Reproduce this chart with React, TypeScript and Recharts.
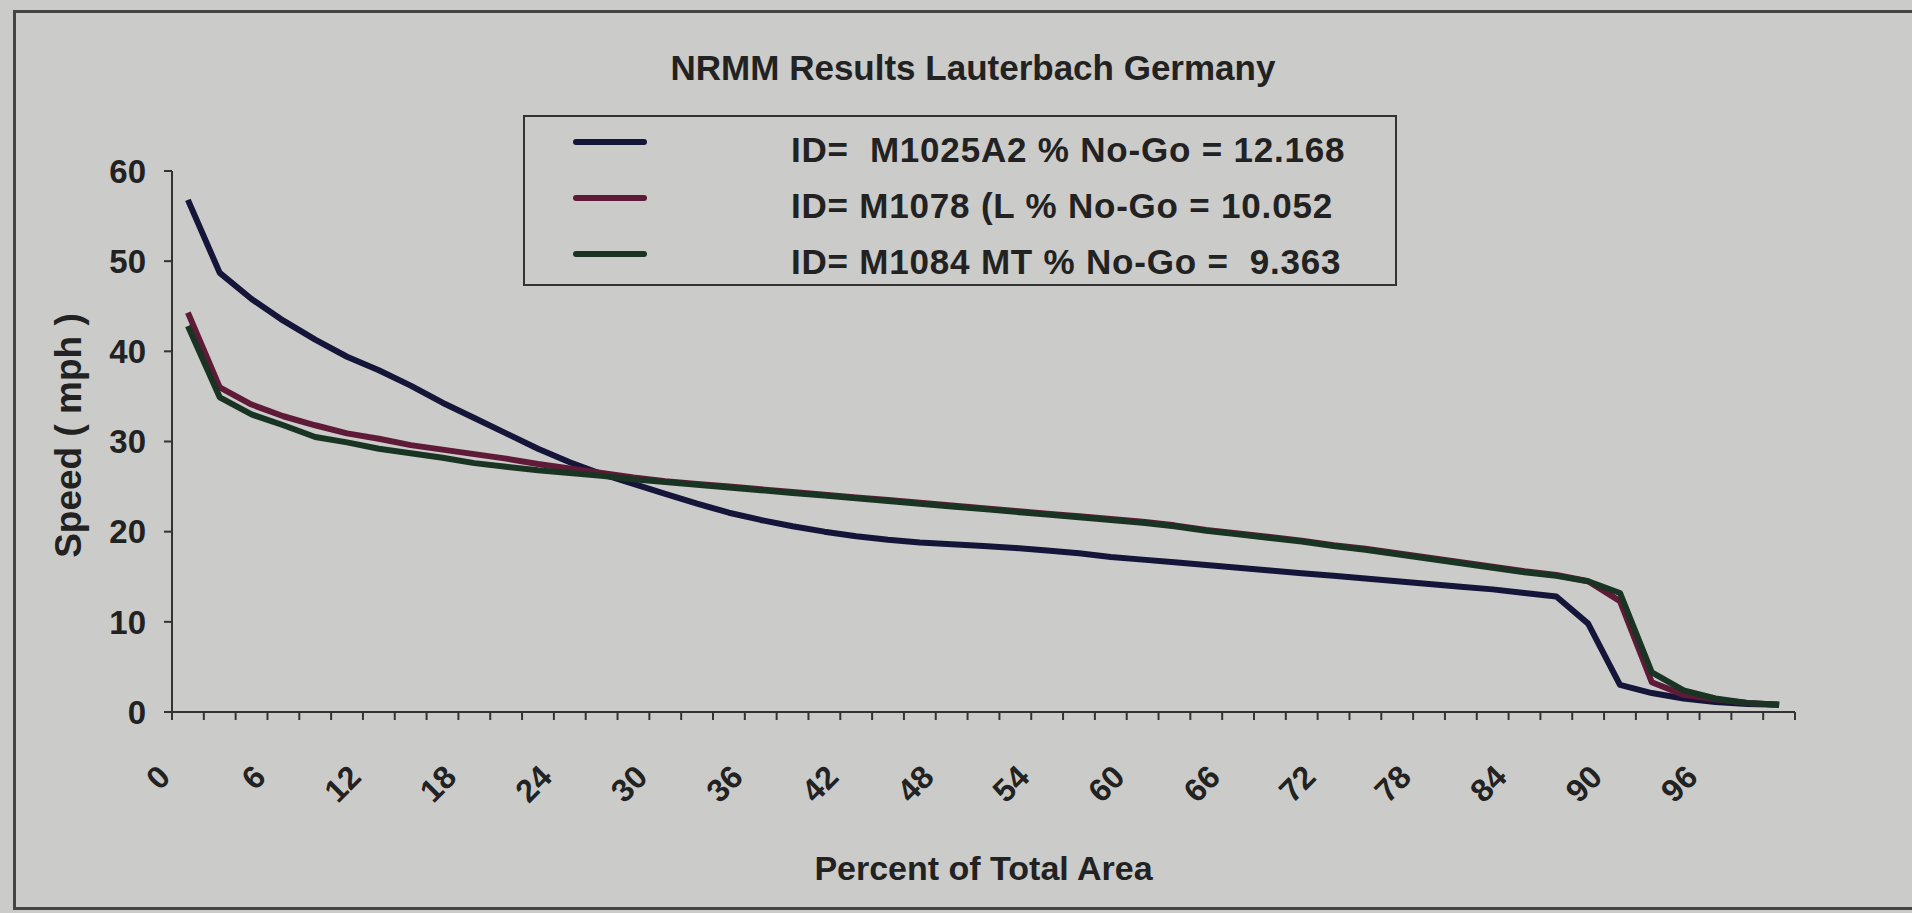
import React from "react";
import { LineChart, Line, XAxis, YAxis, Legend } from "recharts";

// percent-of-area categories (each one 2% wide)
const pct = [
  0, 2, 4, 6, 8, 10, 12, 14, 16, 18, 20, 22, 24, 26, 28, 30, 32, 34, 36, 38, 40, 42, 44, 46, 48, 50,
  52, 54, 56, 58, 60, 62, 64, 66, 68, 70, 72, 74, 76, 78, 80, 82, 84, 86, 88, 90, 92, 94, 96, 98, 100,
];

const m1025 = [
  56.8, 48.7, 45.8, 43.4, 41.3, 39.4, 37.9, 36.2, 34.3, 32.6, 30.9, 29.2, 27.7, 26.4, 25.3, 24.2, 23.1,
  22.1, 21.3, 20.6, 20.0, 19.5, 19.1, 18.8, 18.6, 18.4, 18.2, 17.9, 17.6, 17.2, 16.9, 16.6, 16.3, 16.0,
  15.7, 15.4, 15.1, 14.8, 14.5, 14.2, 13.9, 13.6, 13.2, 12.8, 9.8, 3.0, 2.1, 1.5, 1.1, 0.9, 0.8,
];

const m1078 = [
  44.3, 36.0, 34.1, 32.8, 31.8, 30.9, 30.3, 29.6, 29.1, 28.6, 28.1, 27.5, 27.0, 26.5, 26.0, 25.6, 25.3,
  25.0, 24.7, 24.4, 24.1, 23.8, 23.5, 23.2, 22.9, 22.6, 22.3, 22.0, 21.7, 21.4, 21.1, 20.7, 20.2, 19.8,
  19.4, 19.0, 18.5, 18.1, 17.6, 17.1, 16.6, 16.1, 15.6, 15.2, 14.5, 12.3, 3.3, 1.9, 1.4, 1.0, 0.8,
];

const m1084 = [
  42.8, 34.9, 33.0, 31.8, 30.5, 29.9, 29.2, 28.7, 28.2, 27.6, 27.2, 26.8, 26.5, 26.2, 25.8, 25.5, 25.2,
  24.9, 24.6, 24.3, 24.0, 23.7, 23.4, 23.1, 22.8, 22.5, 22.2, 21.9, 21.6, 21.3, 21.0, 20.6, 20.1, 19.7,
  19.3, 18.9, 18.4, 18.0, 17.5, 17.0, 16.5, 16.0, 15.5, 15.1, 14.5, 13.2, 4.4, 2.4, 1.5, 1.0, 0.8,
];

const yTicks = [0, 10, 20, 30, 40, 50, 60];

// points sit in the middle of each 2% slot
const data = pct.map((p, i) => ({
  x: p + 1,
  m1025: m1025[i],
  m1078: m1078[i],
  m1084: m1084[i],
}));
const xTicks = [...pct, pct[pct.length - 1] + 2];

const FONT = '"Liberation Sans", Arial, sans-serif';
const BG = "#cbcbc9";
const INK = "#222";

const XTick = (props: any) => {
  const { x, y, payload } = props;
  const v = payload.value;
  if (v % 6 !== 0 || v > 96) return <g />;
  return (
    <text
      x={x}
      y={y}
      transform={`rotate(-45 ${x} ${y})`}
      textAnchor="end"
      fontFamily={FONT}
      fontWeight="bold"
      fontSize={32}
      fill={INK}
    >
      {v}
    </text>
  );
};

const renderLegend = (props: any) => {
  const { payload } = props;
  return (
    <div
      style={{
        position: "relative",
        width: 874,
        height: 171,
        boxSizing: "border-box",
        border: "2px solid #333",
        fontFamily: FONT,
        fontWeight: "bold",
        fontSize: 35,
        letterSpacing: 0.8,
        color: INK,
      }}
    >
      {payload.map((entry: any, i: number) => (
        <React.Fragment key={entry.value}>
          <div
            style={{
              position: "absolute",
              left: 48,
              top: 22 + 56 * i,
              width: 74,
              height: 6,
              borderRadius: 3,
              background: entry.color,
            }}
          />
          <div
            style={{
              position: "absolute",
              left: 266,
              top: 13 + 56 * i,
              height: 40,
              lineHeight: "40px",
              whiteSpace: "pre",
            }}
          >
            {entry.value}
          </div>
        </React.Fragment>
      ))}
    </div>
  );
};

const App = () => {
  return (
    <div
      style={{
        position: "absolute",
        left: 0,
        top: 0,
        width: 1912,
        height: 913,
        background: BG,
        overflow: "hidden",
      }}
    >
      <div
        style={{
          position: "absolute",
          left: 13,
          top: 10,
          width: 1920,
          height: 900,
          boxSizing: "border-box",
          border: "3px solid #444",
        }}
      />
      <div
        style={{
          position: "absolute",
          left: 0,
          top: 48,
          width: 1946,
          textAlign: "center",
          fontFamily: FONT,
          fontWeight: "bold",
          fontSize: 35,
          color: INK,
        }}
      >
        NRMM Results  Lauterbach Germany
      </div>
      <LineChart
        width={1912}
        height={913}
        data={data}
        margin={{ top: 171, right: 117, bottom: 101, left: 92 }}
        style={{ position: "absolute", left: 0, top: 0 }}
      >
        <XAxis
          dataKey="x"
          type="number"
          domain={[0, 102]}
          ticks={xTicks}
          interval={0}
          height={100}
          tickSize={8}
          tickMargin={59}
          tick={<XTick />}
          axisLine={{ stroke: "#333", strokeWidth: 2 }}
          tickLine={{ stroke: "#333", strokeWidth: 2 }}
          label={{
            content: (p: any) => {
              const vb = p.viewBox;
              return (
                <text
                  x={vb.x + vb.width / 2}
                  y={vb.y + 156}
                  textAnchor="middle"
                  dominantBaseline="central"
                  fontFamily={FONT}
                  fontWeight="bold"
                  fontSize={34}
                  fill={INK}
                >
                  Percent of Total Area
                </text>
              );
            },
          }}
        />
        <YAxis
          domain={[0, 60]}
          ticks={yTicks}
          width={80}
          tickSize={8}
          tickMargin={18}
          tick={{ fontFamily: FONT, fontWeight: "bold", fontSize: 33, fill: INK }}
          axisLine={{ stroke: "#333", strokeWidth: 2 }}
          tickLine={{ stroke: "#333", strokeWidth: 2 }}
          label={{
            content: (p: any) => {
              const vb = p.viewBox;
              const cx = vb.x - 24;
              const cy = vb.y + vb.height / 2 - 6;
              return (
                <text
                  x={cx}
                  y={cy}
                  transform={`rotate(-90 ${cx} ${cy})`}
                  textAnchor="middle"
                  dominantBaseline="central"
                  fontFamily={FONT}
                  fontWeight="bold"
                  fontSize={37}
                  fill={INK}
                >
                  Speed ( mph )
                </text>
              );
            },
          }}
        />
        <Legend
          layout="horizontal"
          verticalAlign="middle"
          align="center"
          content={renderLegend}
          wrapperStyle={{ left: 523, top: 115, width: 874, height: 171 }}
        />
        <Line
          type="linear"
          dataKey="m1025"
          name="ID=  M1025A2 % No-Go = 12.168"
          stroke="#15153a"
          strokeWidth={6}
          strokeLinejoin="round"
          dot={false}
          isAnimationActive={false}
        />
        <Line
          type="linear"
          dataKey="m1078"
          name="ID= M1078 (L % No-Go = 10.052"
          stroke="#5e1a36"
          strokeWidth={6}
          strokeLinejoin="round"
          dot={false}
          isAnimationActive={false}
        />
        <Line
          type="linear"
          dataKey="m1084"
          name="ID= M1084 MT % No-Go =  9.363"
          stroke="#1a3424"
          strokeWidth={6}
          strokeLinejoin="round"
          dot={false}
          isAnimationActive={false}
        />
      </LineChart>
    </div>
  );
};

export default App;
